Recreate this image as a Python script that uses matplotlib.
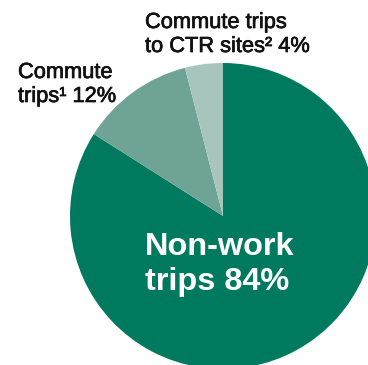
import matplotlib
matplotlib.use("Agg")
import matplotlib.pyplot as plt
import matplotlib.patheffects as pe

# Data
labels = ["Non-work trips", "Commute trips¹", "Commute trips to CTR sites²"]
shares = [84, 12, 4]
colors = ["#007A5E", "#6FA395", "#A8C5BD"]

W, H = 368, 365
fig = plt.figure(figsize=(W / 100, H / 100), dpi=100)
ax = fig.add_axes([0, 0, 1, 1])

cx, cy, r = 223, H - 216, 153
ax.pie(shares, colors=colors, startangle=90, counterclock=False,
       center=(cx, cy), radius=r, frame=True,
       wedgeprops=dict(linewidth=0))
ax.set_xlim(0, W)
ax.set_ylim(0, H)
ax.set_aspect("equal")
ax.axis("off")

font = "Liberation Sans"
heavier = [pe.withStroke(linewidth=0.5, foreground="#111111")]

def line(x, y, s, **kw):
    ax.text(x, H - y, s, family=font, va="baseline", ha="left", **kw)

# Small-slice labels
small = dict(fontsize=15.7, color="#111111", path_effects=heavier)
line(145, 28, "Commute trips", **small)
line(145, 52, f"to CTR sites² {shares[2]}%", **small)
line(18, 78, "Commute", **small)
line(18, 102, f"trips¹ {shares[1]}%", **small)

# Big-slice label
big = dict(fontsize=23.4, color="white", weight="bold")
line(145, 255, "Non-work", **big)
line(145, 290, f"trips {shares[0]}%", **big)

fig.savefig("out.png", dpi=100)
